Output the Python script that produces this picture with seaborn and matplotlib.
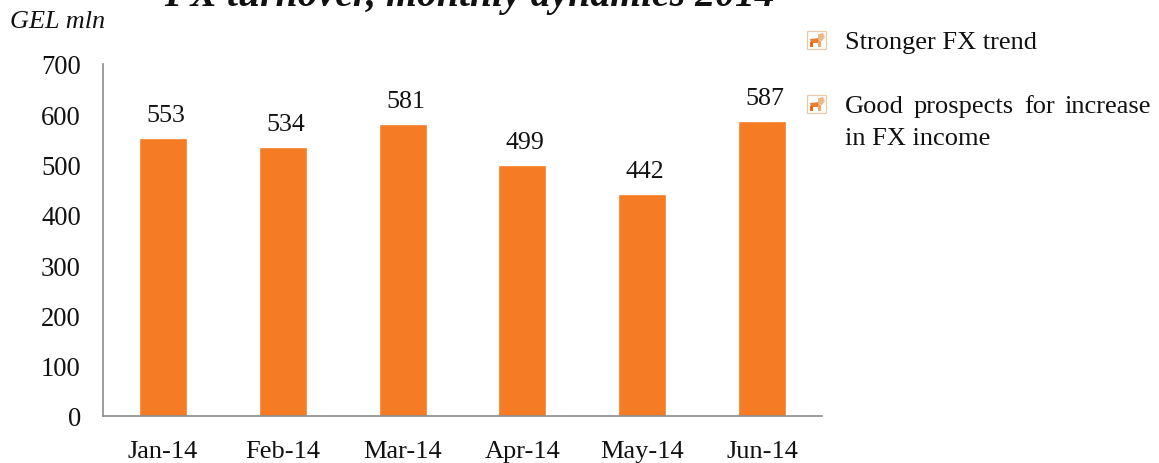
import pandas as pd
import matplotlib
matplotlib.use("Agg")
import matplotlib.pyplot as plt
from matplotlib.patches import Rectangle, Polygon
import seaborn as sns

months = ["Jan-14", "Feb-14", "Mar-14", "Apr-14", "May-14", "Jun-14"]
turnover = [553, 534, 581, 499, 442, 587]
yticks = [0, 100, 200, 300, 400, 500, 600, 700]

W, H = 1159, 464
ORANGE = "#F57B24"
GREY = "#8C8C8C"
TEXT = "#111111"

sns.set_style("white")
plt.rcParams["font.family"] = ["Liberation Serif", "DejaVu Serif"]

df = pd.DataFrame({"month": months, "turnover": turnover})

fig = plt.figure(figsize=(W / 100, H / 100), dpi=100)
ax = fig.add_axes([103 / W, 1 - 417 / H, 719 / W, 352 / H])

sns.barplot(data=df, x="month", y="turnover", color=ORANGE, saturation=1, width=0.4, ax=ax)
ax.set_xlim(-0.5, 5.5)
ax.set_ylim(0, 700)
ax.set_yticks(yticks)
ax.set_xlabel("")
ax.set_ylabel("")
ax.tick_params(axis="y", length=0, pad=16, labelsize=19.2, labelcolor=TEXT)
ax.tick_params(axis="x", length=0, pad=17, labelsize=19, labelcolor=TEXT)

sns.despine(ax=ax)
for side in ["left", "bottom"]:
    ax.spines[side].set_color(GREY)
    ax.spines[side].set_linewidth(1.2)

for i, v in enumerate(turnover):
    ax.annotate(str(v), (i, v), xytext=(3, 17), textcoords="offset pixels",
                ha="center", va="baseline", fontsize=18.6, color=TEXT)


def put(x, y, s, **kw):
    # x, y in pixels from the top left, y is the baseline
    fig.text(x / W, 1 - y / H, s, va="baseline", color=TEXT, **kw)


put(469, 6, "FX turnover, monthly dynamics 2014", ha="center",
    fontsize=28.6, fontweight="bold", fontstyle="italic")
put(10, 28, "GEL mln", fontsize=18.9, fontstyle="italic")

put(845, 49, "Stronger FX trend", fontsize=19)
for x, word in [(845, "Good"), (914, "prospects"), (1024, "for"), (1064, "increase")]:
    put(x, 113, word, fontsize=19)
put(845, 145, "in FX income", fontsize=19)


def bullet(x, y):
    # small square picture bullet with a lion in it, about 19 px wide
    fig.add_artist(Rectangle((x / W, 1 - (y + 18) / H), 19 / W, 18 / H, transform=fig.transFigure,
                             fill=False, edgecolor="#EDC8A6", linewidth=0.9))
    shapes = [
        ([(x + 3, y + 8), (x + 12, y + 7), (x + 13, y + 12), (x + 4, y + 12)], "#EE7F30"),
        ([(x + 11, y + 3), (x + 16, y + 2), (x + 18, y + 6), (x + 15, y + 10), (x + 11, y + 9)], "#EDB98C"),
        ([(x + 3, y + 11), (x + 6, y + 11), (x + 6, y + 16), (x + 3, y + 16)], "#E8691C"),
        ([(x + 11, y + 10), (x + 14, y + 10), (x + 14, y + 16), (x + 11, y + 16)], "#F0A468"),
    ]
    for pts, col in shapes:
        fig.add_artist(Polygon([(px / W, 1 - py / H) for px, py in pts], closed=True,
                               transform=fig.transFigure, facecolor=col, edgecolor="none"))


bullet(807, 32)
bullet(807, 96)

fig.savefig("out.png", dpi=100)
